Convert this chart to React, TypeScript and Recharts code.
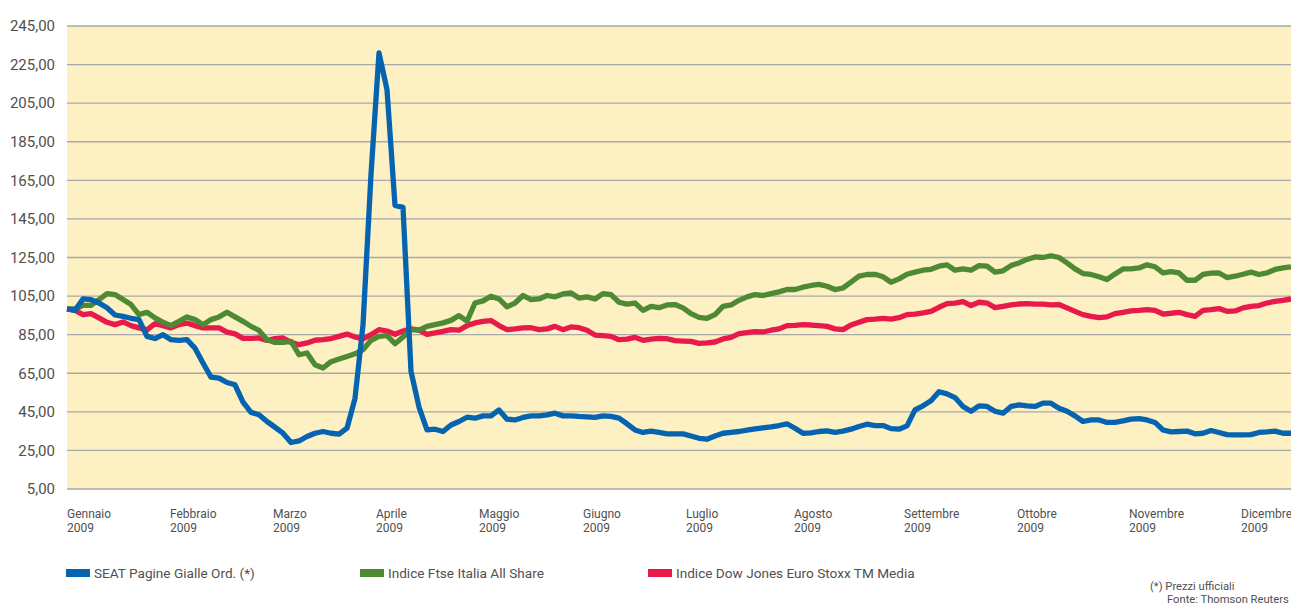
import { CartesianGrid, Legend, Line, LineChart, XAxis, YAxis } from "recharts";

// month labels and where they sit on the sample index (one sample ≈ one step of the original series)
const months = [
  "Gennaio", "Febbraio", "Marzo", "Aprile", "Maggio", "Giugno",
  "Luglio", "Agosto", "Settembre", "Ottobre", "Novembre", "Dicembre",
];
const year = "2009";
const monthPos = [0, 12.875, 25.75, 38.625, 51.5, 64.5, 77.375, 90.875, 104.625, 118.75, 132.75, 146.75];

const yTicks = [5, 25, 45, 65, 85, 105, 125, 145, 165, 185, 205, 225, 245];

const seat = [
  98.3, 97.6, 103.5, 103.2, 101.4, 98.9, 95.2, 94.5, 93.5, 92.8, 84.1, 83, 85, 82.4, 82, 82.4, 78, 70.3, 63, 62.5, 60.2, 59, 50, 44.7, 43.5, 40,
  37, 33.9, 29.1, 29.9, 32.2, 33.9, 34.8, 33.9, 33.4, 36.5, 52, 90, 168, 231, 212, 152, 151, 66, 47.5, 35.6, 36, 34.8, 38.2, 40, 42.2,
  41.7, 42.9, 42.9, 46, 41.2, 40.8, 42.1, 42.9, 42.9, 43.4, 44.3, 42.9, 42.9, 42.6, 42.4, 42.1, 42.9, 42.6, 41.7, 38.8, 35.6, 34.3, 35, 34.3, 33.6, 33.6,
  33.6, 32.5, 31.3, 30.8, 32.5, 33.9, 34.4, 34.8, 35.5, 36.2, 36.7, 37.2, 37.9, 38.8, 36.5, 33.9, 34.1, 34.8, 35.1, 34.4, 35, 36, 37.4, 38.6, 37.9,
  37.9, 36.3, 36, 37.7, 46, 48.1, 50.7, 55.4, 54.3, 52.4, 47.8, 45.3, 48.1, 47.8, 45.3, 44.3, 47.8, 48.6, 48.1, 47.8, 49.5, 49.5, 46.9, 45.3, 42.9, 40,
  40.8, 40.8, 39.5, 39.5, 40.3, 41.2, 41.5, 40.8, 39.5, 35.6, 34.6, 34.8, 35, 33.6, 33.9, 35.3, 34.3, 33.2, 33.1, 33.1, 33.2, 34.3, 34.6, 35, 33.9, 33.9,
];

const ftse = [
  98.3, 98.3, 100.2, 100.2, 103.2, 106.3, 105.8, 103.2, 100.6, 95.4, 96.6, 93.7, 91.4, 89.7, 91.9, 94.2, 92.8, 90.2, 92.8, 94.2, 96.6, 94.2, 91.9, 89.3, 87.2, 82.4,
  81, 81, 81.5, 74.6, 75.5, 69.4, 67.7, 71, 72.4, 73.7, 75.1, 77.2, 82.1, 84.1, 84.5, 80.3, 83.8, 87.6, 87.3, 89.3, 90.2, 91.1, 92.4, 94.9, 92,
  101.4, 102.5, 104.9, 103.5, 99.4, 101.4, 105.3, 103.2, 103.5, 105.3, 104.6, 106.1, 106.6, 104, 104.6, 103.5, 106.3, 105.8, 101.8, 100.8, 101.4, 97.6, 99.7, 99, 100.4, 100.6,
  98.9, 95.9, 94, 93.5, 95.4, 99.7, 100.4, 102.8, 104.6, 105.8, 105.3, 106.3, 107.2, 108.4, 108.4, 109.6, 110.5, 111.1, 110.1, 108.4, 109.2, 112.2, 115.3, 116.2, 116.3,
  115, 112.2, 113.9, 116.3, 117.4, 118.4, 118.9, 120.5, 121.2, 118.4, 119.1, 118.4, 120.8, 120.5, 117.4, 118.1, 120.8, 122.2, 124, 125.3, 125, 125.9, 125, 122.2, 119.1, 116.7,
  116.2, 115, 113.6, 116.5, 119.1, 119.1, 119.6, 121.2, 120.2, 117, 117.7, 117, 113.2, 113.2, 116.3, 116.9, 117, 114.6, 115.3, 116.3, 117.4, 116.2, 117, 118.8, 119.6, 120.2,
];

const stoxx = [
  98.3, 97.6, 95.4, 95.9, 93.7, 91.4, 90.2, 91.6, 89.7, 88.5, 87.5, 90.7, 89.7, 88.5, 90.2, 91, 89.7, 88.5, 88.5, 88.5, 86.3, 85.4, 83.1, 83.1, 83.3, 82,
  83, 83.3, 81, 79.8, 80.7, 82.1, 82.4, 83, 84.1, 85.3, 83.8, 82.8, 85, 87.6, 86.9, 85.2, 86.9, 88, 87.3, 85.2, 85.9, 86.7, 87.6, 87.3, 89.7,
  91.1, 91.9, 92.3, 89.7, 87.6, 88, 88.5, 88.6, 87.6, 88, 89.3, 87.6, 89, 88.6, 87.3, 84.8, 84.5, 84.1, 82.4, 82.7, 83.6, 82.1, 82.7, 83.1, 82.9, 81.9,
  81.7, 81.5, 80.5, 80.7, 81.2, 82.8, 83.6, 85.5, 86, 86.6, 86.4, 87.3, 88, 89.7, 89.8, 90.2, 90, 89.7, 89.3, 88, 87.6, 90, 91.4, 92.8, 93.1,
  93.5, 93.1, 93.8, 95.4, 95.7, 96.3, 97.1, 99.2, 101.1, 101.4, 102.1, 100.1, 101.8, 101.4, 99, 99.7, 100.4, 100.9, 101.1, 100.8, 100.8, 100.4, 100.6, 98.9, 97.1, 95.4,
  94.5, 93.8, 94.2, 95.9, 96.6, 97.3, 97.6, 98, 97.6, 95.7, 96.1, 96.6, 95.4, 94.5, 97.6, 98, 98.5, 97.1, 97.3, 98.9, 99.7, 100.1, 101.4, 102.3, 102.8, 103.5,
];

const series = [
  { key: "seat", name: "SEAT Pagine Gialle Ord. (*)", color: "#0563b0" },
  { key: "ftse", name: "Indice Ftse Italia All Share", color: "#4e8a34" },
  { key: "stoxx", name: "Indice Dow Jones Euro Stoxx TM Media", color: "#e8194b" },
];

const data = seat.map((v, i) => ({ i, seat: v, ftse: ftse[i], stoxx: stoxx[i] }));

const FONT = "Roboto, 'Open Sans', sans-serif";
const TEXT = "#505050";

function MonthTick({ x, y, payload }: any) {
  const idx = monthPos.indexOf(payload.value);
  return (
    <g fontFamily={FONT} fontSize={12} fill={TEXT}>
      <text x={x} y={y + 29} textAnchor="start">{months[idx]}</text>
      <text x={x} y={y + 43} textAnchor="start">{year}</text>
    </g>
  );
}

function SeriesLegend() {
  const widths = [294, 288, 320];
  return (
    <div style={{ display: "flex", fontFamily: FONT, fontSize: 13.6, color: TEXT }}>
      {series.map((s, k) => (
        <div key={s.key} style={{ width: widths[k], display: "flex", alignItems: "center" }}>
          <span style={{ display: "inline-block", width: 24, height: 8, background: s.color, marginRight: 4 }} />
          {s.name}
        </div>
      ))}
    </div>
  );
}

export default function App() {
  // draw order: red under green under blue
  const drawOrder = [series[2], series[1], series[0]];
  return (
    <div style={{ position: "absolute", left: 0, top: 0, width: 1291, height: 606, background: "#fff" }}>
      <LineChart width={1291} height={606} data={data} margin={{ top: 26, right: 0, bottom: 0, left: 0 }}>
        <CartesianGrid vertical={false} stroke="#a9a9a9" strokeWidth={1.3} fill="#fdf0c3" fillOpacity={1} />
        <XAxis
          dataKey="i"
          type="number"
          domain={[0, seat.length - 1]}
          ticks={monthPos}
          interval={0}
          axisLine={false}
          tickLine={false}
          tickSize={0}
          tickMargin={0}
          height={117}
          tick={<MonthTick />}
        />
        <YAxis
          domain={[5, 245]}
          ticks={yTicks}
          interval={0}
          width={67}
          axisLine={false}
          tickLine={false}
          tickSize={0}
          tickMargin={12}
          tickFormatter={(v: number) => v.toFixed(2).replace(".", ",")}
          tick={{ fill: TEXT, fontSize: 15, fontFamily: FONT }}
        />
        <Legend
          verticalAlign="middle"
          align="center"
          content={<SeriesLegend />}
          wrapperStyle={{ top: 565, left: 66, width: 1000, height: 16 }}
        />
        {drawOrder.map((s) => (
          <Line
            key={s.key}
            dataKey={s.key}
            name={s.name}
            type="linear"
            stroke={s.color}
            strokeWidth={5.3}
            strokeLinejoin="round"
            dot={false}
            activeDot={false}
            isAnimationActive={false}
          />
        ))}
      </LineChart>
      <div
        style={{
          position: "absolute",
          left: 1150,
          top: 580,
          fontFamily: FONT,
          fontSize: 11.2,
          lineHeight: "13px",
          color: TEXT,
          whiteSpace: "nowrap",
        }}
      >
        <div>(*) Prezzi ufficiali</div>
        <div style={{ paddingLeft: 17 }}>Fonte: Thomson Reuters</div>
      </div>
    </div>
  );
}
